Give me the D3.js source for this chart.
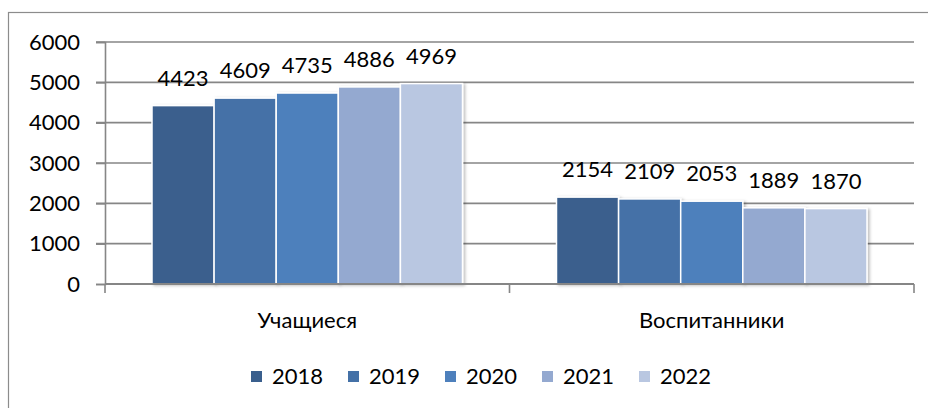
<!DOCTYPE html>
<html>
<head>
<meta charset="utf-8">
<script src="https://cdn.jsdelivr.net/npm/d3@7"></script>
<style>
  body { margin: 0; background: #fff; }
  svg { display: block; font-family: Lato, "Open Sans", sans-serif; }
</style>
</head>
<body>
<div id="chart"></div>
<script>
// data
const categories = ["Учащиеся", "Воспитанники"];
const years = ["2018", "2019", "2020", "2021", "2022"];
const students = [4423, 4609, 4735, 4886, 4969];
const pupils = [2154, 2109, 2053, 1889, 1870];
const yTicks = [0, 1000, 2000, 3000, 4000, 5000, 6000];
const colors = ["#3a5f8d", "#4471a7", "#4e80bc", "#94a9d0", "#b9c7e1"];

const W = 928, H = 408;
const FS = 22;
const rows = categories.map((c, i) => ({
  cat: c,
  vals: years.map((y, j) => ({ year: y, v: [students, pupils][i][j] }))
}));

const svg = d3.select("#chart").append("svg")
  .attr("width", W).attr("height", H);

const defs = svg.append("defs");
const f = defs.append("filter").attr("id", "shadow")
  .attr("x", "-10%").attr("y", "-10%").attr("width", "130%").attr("height", "130%");
f.append("feDropShadow").attr("dx", 2).attr("dy", 1).attr("stdDeviation", 1.5)
  .attr("flood-color", "#000").attr("flood-opacity", 0.25);

// outer frame (runs off the right and bottom)
svg.append("rect")
  .attr("x", 8.5).attr("y", 12.5).attr("width", 1000).attr("height", 500)
  .attr("fill", "none").attr("stroke", "#8c8c8c").attr("stroke-width", 1.2);

const pLeft = 105, pRight = 914, pTop = 42, pBottom = 284;

const y = d3.scaleLinear().domain([0, 6000]).range([pBottom, pTop]);
const x0 = d3.scaleBand().domain(categories).range([pLeft, pRight]);
const x1 = d3.scaleBand().domain(years)
  .range([47, x0.bandwidth() - 47]);

// gridlines
svg.append("g").selectAll("line")
  .data(yTicks.filter(d => d > 0))
  .enter().append("line")
  .attr("x1", pLeft - 9).attr("x2", pRight)
  .attr("y1", d => y(d)).attr("y2", d => y(d))
  .attr("stroke", "#868686").attr("stroke-width", 1.6);

// y axis
const yAxis = svg.append("g")
  .attr("transform", `translate(${pLeft},0)`)
  .call(d3.axisLeft(y).tickValues(yTicks).tickSize(9).tickPadding(16).tickFormat(d3.format("d")));
yAxis.select(".domain").attr("stroke", "#868686").attr("stroke-width", 1.6);
yAxis.selectAll(".tick line").attr("stroke", "#868686").attr("stroke-width", 1.6);
yAxis.selectAll("text").attr("font-size", FS).attr("fill", "#000")
  .attr("font-family", "Lato, sans-serif");

// bars
const groups = svg.append("g").selectAll("g")
  .data(rows).enter().append("g")
  .attr("transform", d => `translate(${x0(d.cat)},0)`);

groups.selectAll("rect")
  .data(d => d.vals).enter().append("rect")
  .attr("x", d => x1(d.year))
  .attr("y", d => y(d.v))
  .attr("width", x1.bandwidth())
  .attr("height", d => pBottom - y(d.v))
  .attr("fill", (d, i) => colors[i])
  .attr("stroke", "#fff").attr("stroke-width", 1.5)
  .attr("filter", "url(#shadow)");

groups.selectAll("text")
  .data(d => d.vals).enter().append("text")
  .attr("x", d => x1(d.year) + x1.bandwidth() / 2)
  .attr("y", d => y(d.v) - 20)
  .attr("text-anchor", "middle")
  .attr("font-size", FS)
  .text(d => d.v);

// x axis
const xAxis = svg.append("g")
  .attr("transform", `translate(0,${pBottom})`);
xAxis.append("line").attr("x1", pLeft).attr("x2", pRight)
  .attr("stroke", "#868686").attr("stroke-width", 1.8);
xAxis.selectAll(".tk")
  .data([pLeft, pLeft + x0.bandwidth(), pRight])
  .enter().append("line")
  .attr("x1", d => d).attr("x2", d => d)
  .attr("y1", 0).attr("y2", 9)
  .attr("stroke", "#868686").attr("stroke-width", 1.6);
xAxis.selectAll("text")
  .data(categories).enter().append("text")
  .attr("x", d => x0(d) + x0.bandwidth() / 2)
  .attr("y", 44)
  .attr("text-anchor", "middle")
  .attr("font-size", FS)
  .text(d => d);

// legend
const legend = svg.append("g").attr("transform", "translate(251,0)");
const li = legend.selectAll("g").data(years).enter().append("g")
  .attr("transform", (d, i) => `translate(${i * 97},0)`);
li.append("rect")
  .attr("x", 0).attr("y", 371).attr("width", 11).attr("height", 11)
  .attr("fill", (d, i) => colors[i]);
li.append("text")
  .attr("x", 21).attr("y", 384)
  .attr("font-size", FS)
  .text(d => d);
</script>
</body>
</html>
